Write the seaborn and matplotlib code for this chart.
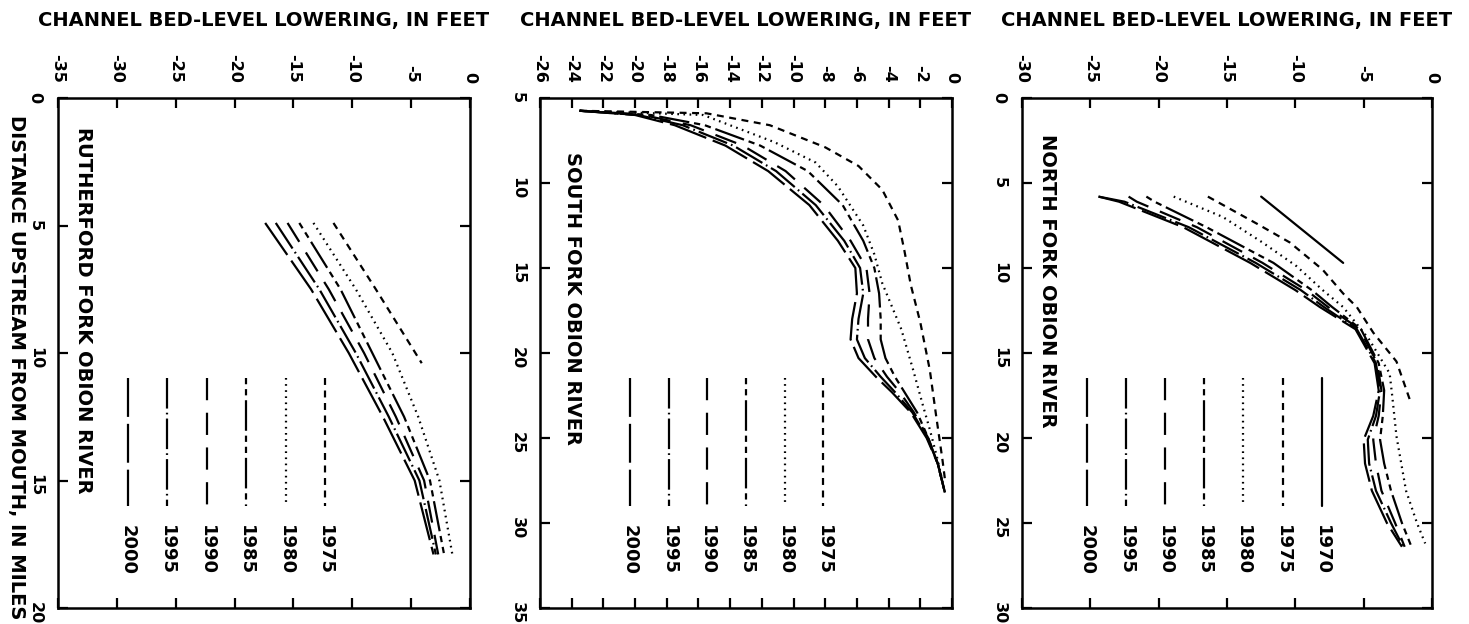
import matplotlib
matplotlib.use("Agg")
import matplotlib.pyplot as plt
import pandas as pd
import seaborn as sns

# ---------------- data ----------------
# Rutherford Fork Obion River: distance upstream (miles) and bed-level lowering (feet)
RF_1975_MI = [4.9, 7.5, 10.4]
RF_1975_FT = [-11.6, -8.0, -4.1]
RF_MI = [4.9, 7.5, 10.0, 12.5, 15.0, 17.9]
RF_1980_FT = [-13.3, -9.7, -6.6, -4.4, -2.6, -1.5]
RF_1985_FT = [-14.5, -11.0, -8.3, -5.6, -3.4, -2.2]
RF_1990_FT = [-15.5, -12.0, -9.0, -6.3, -3.9, -2.7]
RF_1995_FT = [-16.5, -12.8, -9.7, -6.9, -4.3, -2.9]
RF_2000_FT = [-17.4, -13.5, -10.3, -7.4, -4.7, -3.1]

# South Fork Obion River
SF_1975_MI = [5.75, 5.9, 6.6, 7.9, 9.0, 10.4, 12.2, 14.0, 16.0, 18.2, 21.0, 23.7, 26.3, 27.4]
SF_1975_FT = [-23.5, -15.5, -11.5, -8.0, -5.9, -4.4, -3.4, -3.0, -2.6, -2.0, -1.4, -1.0, -0.6, -0.45]
SF_1980_MI = [5.75, 6.0, 7.6, 8.8, 10.2, 12.5, 14.2, 15.9, 18.6, 21.0, 23.2, 24.5, 26.3, 28.2]
SF_1980_FT = [-23.5, -15.7, -11.2, -8.6, -7.2, -5.6, -4.9, -4.4, -3.2, -2.45, -1.8, -1.4, -0.9, -0.45]
SF_MI = [5.75, 6.0, 6.6, 7.8, 9.3, 11.3, 13.4, 15.0, 16.5, 18.0, 19.2, 20.3, 21.4, 22.3, 23.5, 25.0, 26.5, 28.2]
SF_1985_FT = [-23.5, -19.0, -15.6, -12.1, -9.1, -6.9, -5.6, -4.9, -4.6, -4.5, -4.5, -4.2, -3.6, -3.0, -2.2, -1.5, -0.9, -0.45]
SF_1990_FT = [-23.5, -19.5, -16.5, -13.2, -10.5, -8.1, -6.4, -5.4, -5.2, -5.3, -5.3, -4.9, -4.1, -3.3, -2.4, -1.5, -0.9, -0.45]
SF_1995_FT = [-23.5, -19.8, -17.0, -13.8, -11.1, -8.6, -6.8, -5.8, -5.6, -5.9, -6.0, -5.5, -4.5, -3.6, -2.5, -1.55, -0.9, -0.45]
SF_2000_FT = [-23.5, -20.0, -17.5, -14.3, -11.6, -9.0, -7.2, -6.1, -6.0, -6.3, -6.4, -5.9, -4.8, -3.8, -2.6, -1.6, -0.9, -0.45]

# North Fork Obion River
NF_1970_MI = [5.8, 9.7]
NF_1970_FT = [-12.5, -6.5]
NF_1975_MI = [5.8, 7.4, 8.5, 10.1, 11.5, 12.3, 13.8, 15.5, 17.8]
NF_1975_FT = [-16.4, -12.8, -10.4, -8.0, -6.5, -5.5, -4.3, -2.6, -1.6]
NF_1980_MI = [5.8, 7.0, 8.5, 9.9, 11.3, 12.3, 14.2, 16.2, 17.6, 19.9, 23.1, 25.0, 26.2]
NF_1980_FT = [-18.9, -15.3, -12.4, -9.9, -8.0, -6.5, -4.6, -3.1, -2.9, -2.6, -1.9, -1.1, -0.5]
NF_MI = [5.8, 6.1, 7.6, 9.7, 11.3, 12.3, 13.6, 15.6, 17.2, 18.7, 20.1, 21.5, 23.1, 25.0, 26.4]
NF_1985_FT = [-20.9, -20.3, -16.5, -11.6, -8.8, -7.3, -5.2, -3.9, -3.5, -3.6, -3.8, -3.5, -3.0, -2.2, -1.5]
NF_1990_FT = [-22.2, -21.6, -17.2, -12.4, -9.2, -7.6, -5.3, -4.0, -3.7, -3.9, -4.3, -4.1, -3.7, -2.7, -2.0]
NF_1995_FT = [-24.4, -22.5, -17.8, -12.9, -9.6, -7.9, -5.5, -4.1, -3.8, -4.1, -4.7, -4.6, -4.1, -3.0, -2.1]
NF_2000_FT = [-24.4, -22.9, -18.2, -13.3, -10.0, -8.2, -5.6, -4.2, -3.9, -4.3, -5.0, -4.9, -4.4, -3.3, -2.2]

RF_YEARS = ["1975", "1980", "1985", "1990", "1995", "2000"]
SF_YEARS = ["1975", "1980", "1985", "1990", "1995", "2000"]
NF_YEARS = ["1970", "1975", "1980", "1985", "1990", "1995", "2000"]

RF_NAME = "RUTHERFORD FORK OBION RIVER"
SF_NAME = "SOUTH FORK OBION RIVER"
NF_NAME = "NORTH FORK OBION RIVER"

RF_XTICKS = [-35, -30, -25, -20, -15, -10, -5, 0]
RF_YTICKS = [0, 5, 10, 15, 20]
SF_XTICKS = [-26, -24, -22, -20, -18, -16, -14, -12, -10, -8, -6, -4, -2, 0]
SF_YTICKS = [5, 10, 15, 20, 25, 30, 35]
NF_XTICKS = [-30, -25, -20, -15, -10, -5, 0]
NF_YTICKS = [0, 5, 10, 15, 20, 25, 30]

X_TITLE = "CHANNEL BED-LEVEL LOWERING, IN FEET"
Y_TITLE = "DISTANCE UPSTREAM FROM MOUTH, IN MILES"

# ---------------- styles ----------------
DASHES = {
    "1970": "",
    "1975": (5, 4),
    "1980": (1.2, 3.2),
    "1985": (4.5, 3.5, 4.5, 3.5, 22, 3.5),
    "1990": (16, 9),
    "1995": (22, 3, 1.2, 3),
    "2000": (28, 5),
}


def frame(years, miles, feet):
    rows = []
    for yr, mi, ft in zip(years, miles, feet):
        for m, f in zip(mi, ft):
            rows.append({"year": yr, "mi": m, "ft": f})
    return pd.DataFrame(rows)


rf_df = frame(RF_YEARS,
              [RF_1975_MI, RF_MI, RF_MI, RF_MI, RF_MI, RF_MI],
              [RF_1975_FT, RF_1980_FT, RF_1985_FT, RF_1990_FT, RF_1995_FT, RF_2000_FT])
sf_df = frame(SF_YEARS,
              [SF_1975_MI, SF_1980_MI, SF_MI, SF_MI, SF_MI, SF_MI],
              [SF_1975_FT, SF_1980_FT, SF_1985_FT, SF_1990_FT, SF_1995_FT, SF_2000_FT])
nf_df = frame(NF_YEARS,
              [NF_1970_MI, NF_1975_MI, NF_1980_MI, NF_MI, NF_MI, NF_MI, NF_MI],
              [NF_1970_FT, NF_1975_FT, NF_1980_FT, NF_1985_FT, NF_1990_FT, NF_1995_FT, NF_2000_FT])

sns.set_theme(style="white")
plt.rcParams["font.family"] = ["DejaVu Sans"]
plt.rcParams["lines.scale_dashes"] = False

W, H = 1469, 624
fig = plt.figure(figsize=(W / 100, H / 100), dpi=100)

panels = [
    dict(df=rf_df, years=RF_YEARS, name=RF_NAME, xt=RF_XTICKS, yt=RF_YTICKS,
         left=58, right=470, name_xy=(0.061, 0.584), leg_x0=0.170, leg_dx=0.0956),
    dict(df=sf_df, years=SF_YEARS, name=SF_NAME, xt=SF_XTICKS, yt=SF_YTICKS,
         left=540, right=952, name_xy=(0.078, 0.606), leg_x0=0.218, leg_dx=0.094),
    dict(df=nf_df, years=NF_YEARS, name=NF_NAME, xt=NF_XTICKS, yt=NF_YTICKS,
         left=1022, right=1432, name_xy=(0.063, 0.641), leg_x0=0.158, leg_dx=0.0955),
]

TOP, BOTTOM = 98, 608
for p in panels:
    ax = fig.add_axes([p["left"] / W, (H - BOTTOM) / H,
                       (p["right"] - p["left"]) / W, (BOTTOM - TOP) / H])
    sns.lineplot(data=p["df"], x="ft", y="mi", style="year", style_order=p["years"],
                 dashes=DASHES, color="black", linewidth=1.6, estimator=None,
                 sort=True, orient="y", legend=False, ax=ax)
    ax.set_xlim(p["xt"][0], p["xt"][-1])
    ax.set_ylim(p["yt"][-1], p["yt"][0])
    ax.set_xticks(p["xt"], [str(v) for v in p["xt"]])
    ax.set_yticks(p["yt"], [str(v) for v in p["yt"]])
    ax.set_xlabel("")
    ax.set_ylabel("")
    ax.tick_params(axis="both", which="major", direction="in", length=7, width=1.6,
                   color="black", top=True, bottom=True, left=True, right=True,
                   labeltop=True, labelbottom=False, labelleft=True, labelright=False,
                   pad=11, labelsize=11.5, labelcolor="black")
    ax.tick_params(axis="x", labelrotation=270)
    ax.tick_params(axis="y", labelrotation=270)
    for lbl in ax.get_xticklabels(which="both") + ax.get_yticklabels():
        lbl.set_fontweight("bold")
    for sp in ax.spines.values():
        sp.set_visible(True)
        sp.set_color("black")
        sp.set_linewidth(1.8)

    # top axis title
    ax.text(0.5, 1.151, X_TITLE, transform=ax.transAxes, ha="center", va="center",
            fontsize=14, fontweight="bold", color="black")
    # river name
    ax.text(p["name_xy"][0], p["name_xy"][1], p["name"], transform=ax.transAxes,
            rotation=270, ha="center", va="center", fontsize=14, fontweight="bold",
            color="black")
    # legend samples (vertical strokes with year labels below)
    for i, yr in enumerate(reversed(p["years"])):
        lx = p["leg_x0"] + i * p["leg_dx"]
        d = DASHES[yr]
        kw = dict(linestyle="-") if d == "" else dict(dashes=d)
        ax.plot([lx, lx], [0.451, 0.200], transform=ax.transAxes, color="black",
                linewidth=1.6, **kw)
        ax.text(lx, 0.163, yr, transform=ax.transAxes, rotation=270, ha="center",
                va="top", fontsize=13, fontweight="bold", color="black")

fig.text(16 / W, 0.412, Y_TITLE, rotation=270, ha="center", va="center",
         fontsize=14, fontweight="bold", color="black")

fig.savefig("out.png", dpi=100, facecolor="white")
